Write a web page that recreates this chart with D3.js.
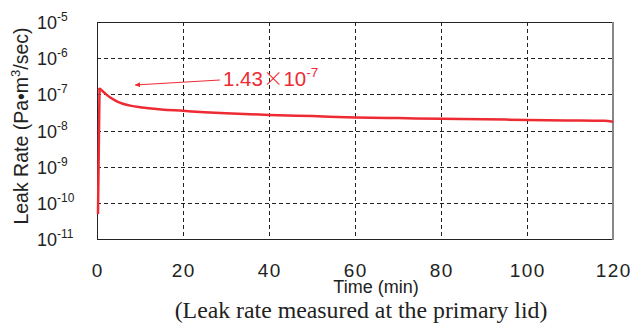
<!DOCTYPE html>
<html><head><meta charset="utf-8">
<script src="https://cdn.jsdelivr.net/npm/d3@7/dist/d3.min.js"></script>
<style>body{margin:0;background:#fff}svg{display:block}</style>
</head><body>
<svg id="c" width="643" height="325"></svg>
<script>
// Data
const timeMin = [0, 0.35, 0.6, 1, 1.5, 2, 3, 4, 5, 6, 8, 10, 12, 15, 20, 25, 30, 40, 50, 60, 70, 80, 90, 100, 110, 118, 120];
const leakRate = [4.9e-11, 1.3e-7, 1.43e-7, 1.32e-7, 1.17e-7, 1.03e-7, 8.3e-8, 7.0e-8, 6.1e-8, 5.5e-8, 4.8e-8, 4.4e-8, 4.1e-8, 3.8e-8, 3.5e-8, 3.2e-8, 3.0e-8, 2.7e-8, 2.5e-8, 2.3e-8, 2.2e-8, 2.1e-8, 2.05e-8, 1.95e-8, 1.9e-8, 1.85e-8, 1.75e-8];
const xTicks = [0, 20, 40, 60, 80, 100, 120];
const yExponents = [-5, -6, -7, -8, -9, -10, -11];
const peakExp = "-7";
const xTitle = "Time (min)";
const yTitle = "Leak Rate (Pa•m";
const caption = "(Leak rate measured at the primary lid)";

const svg = d3.select("#c");
const L = 97, R = 613, T = 22, B = 239;
const x = d3.scaleLinear().domain([0, 120]).range([L, R]);
const y = d3.scaleLog().domain([1e-11, 1e-5]).range([B, T]);
const sans = "'Liberation Sans', Arial, Helvetica, sans-serif";
const red = "#ee2a33";

// grid
const g = svg.append("g");
g.selectAll("line.v").data(xTicks.slice(1, -1)).join("line")
  .attr("x1", d => Math.round(x(d)) + 0.5).attr("x2", d => Math.round(x(d)) + 0.5).attr("y1", T).attr("y2", B)
  .attr("stroke", "#222").attr("stroke-width", 1).attr("stroke-dasharray", "4,3");
g.selectAll("line.h").data(yExponents.slice(1, -1)).join("line")
  .attr("y1", d => Math.round(y(Math.pow(10, d))) + 0.5).attr("y2", d => Math.round(y(Math.pow(10, d))) + 0.5)
  .attr("x1", L).attr("x2", R)
  .attr("stroke", "#222").attr("stroke-width", 1).attr("stroke-dasharray", "4,3");

// frame
svg.append("line").attr("x1", L).attr("x2", R).attr("y1", T + 0.5).attr("y2", T + 0.5).attr("stroke", "#222");
svg.append("line").attr("x1", L).attr("x2", R).attr("y1", B + 0.5).attr("y2", B + 0.5).attr("stroke", "#222");
svg.append("line").attr("x1", L + 0.5).attr("x2", L + 0.5).attr("y1", T).attr("y2", B + 1).attr("stroke", "#222");
svg.append("line").attr("x1", R).attr("x2", R).attr("y1", T).attr("y2", B + 1).attr("stroke", "#888").attr("stroke-width", 2);

// series
const line = d3.line().x(d => x(d[0])).y(d => y(d[1])).curve(d3.curveMonotoneX);
const pts = timeMin.map((t, i) => [t, leakRate[i]]);
svg.append("path").datum(pts.slice(0, 2)).attr("d", d3.line().x(d => x(d[0]) + 1).y(d => y(d[1])))
  .attr("fill", "none").attr("stroke", red).attr("stroke-width", 2.5);
svg.append("path").datum(pts.slice(1)).attr("d", line)
  .attr("fill", "none").attr("stroke", red).attr("stroke-width", 2.5).attr("stroke-linejoin", "round");

// y tick labels
const yl = svg.append("g").attr("font-family", sans).attr("fill", "#222");
yExponents.forEach(e => {
  const t = yl.append("text").attr("x", 37).attr("y", y(Math.pow(10, e)) + 7).attr("font-size", 18);
  t.append("tspan").text("10");
  t.append("tspan").attr("font-size", 12).attr("dy", -8).text(String(e));
});

// x tick labels
svg.append("g").selectAll("text").data(xTicks).join("text")
  .attr("x", d => x(d) + 0.7).attr("y", 277).attr("text-anchor", "middle")
  .attr("font-family", sans).attr("font-size", 19).attr("letter-spacing", 1.4).attr("fill", "#222").text(d => d);

// axis titles
svg.append("text").attr("x", 376).attr("y", 293).attr("text-anchor", "middle")
  .attr("font-family", sans).attr("font-size", 18).attr("fill", "#222").text(xTitle);
const yt = svg.append("text").attr("transform", "translate(28,126) rotate(-90)").attr("text-anchor", "middle")
  .attr("font-family", sans).attr("font-size", 19.5).attr("fill", "#222");
yt.append("tspan").text(yTitle);
yt.append("tspan").attr("font-size", 13).attr("dy", -8).text("3");
yt.append("tspan").attr("dy", 8).text("/sec)");

// caption
svg.append("text").attr("x", 361).attr("y", 318).attr("text-anchor", "middle")
  .attr("font-family", "'Liberation Serif', 'Times New Roman', serif").attr("font-size", 23.8).attr("fill", "#222").text(caption);

// annotation
svg.append("defs").append("marker").attr("id", "ah").attr("viewBox", "0 0 10 10").attr("refX", 0).attr("refY", 5)
  .attr("markerWidth", 9).attr("markerHeight", 5).attr("orient", "auto").attr("markerUnits", "userSpaceOnUse")
  .append("path").attr("d", "M0,5 L10,0 L10,10 Z").attr("fill", red);
svg.append("line").attr("x1", 135).attr("y1", 85).attr("x2", 220).attr("y2", 80)
  .attr("stroke", red).attr("stroke-width", 1.2).attr("marker-start", "url(#ah)");
const at = svg.append("text").attr("x", 223).attr("y", 86).attr("font-family", sans).attr("font-size", 20.5).attr("fill", red);
at.append("tspan").text("1.43");
at.append("tspan").attr("font-family", "'Noto Sans CJK JP', sans-serif").attr("font-weight", 300).text("×");
at.append("tspan").text("10");
at.append("tspan").attr("font-size", 13.5).attr("dy", -9).text(peakExp);
</script>
</body></html>
